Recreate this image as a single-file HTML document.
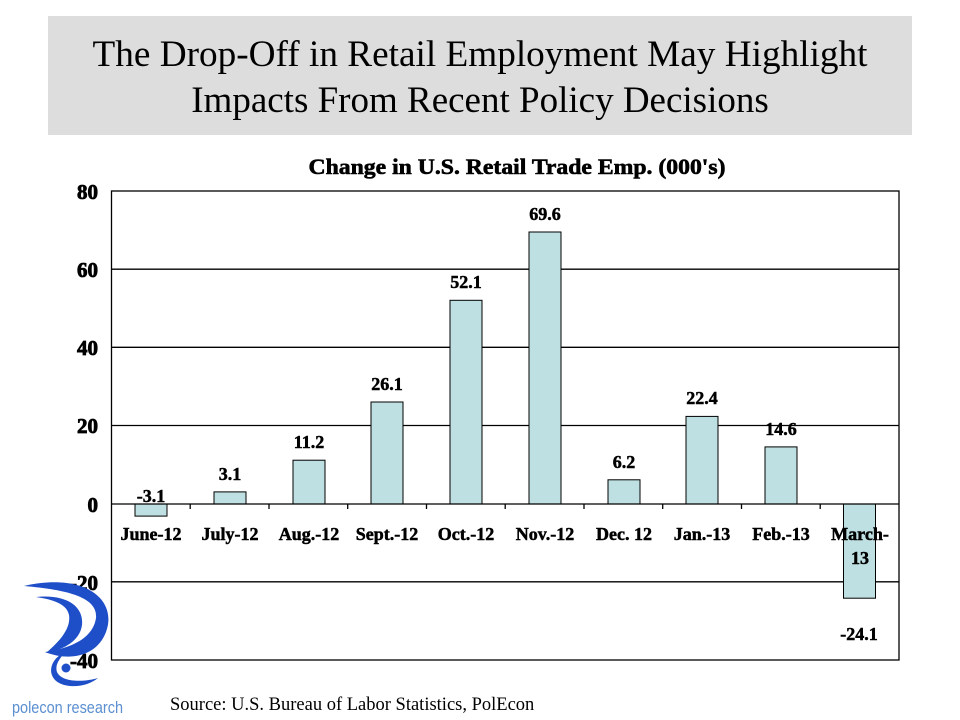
<!DOCTYPE html>
<html><head><style>
body{margin:0;background:#fff;}
svg{display:block}
</style></head><body>
<svg width="960" height="720" viewBox="0 0 960 720" xmlns="http://www.w3.org/2000/svg" font-family="Liberation Serif, serif">
<rect x="48" y="16" width="864" height="119" fill="#dddddd"/>
<text x="480" y="66" font-size="37" text-anchor="middle" textLength="775" lengthAdjust="spacingAndGlyphs">The Drop-Off in Retail Employment May Highlight</text>
<text x="480" y="112" font-size="37" text-anchor="middle">Impacts From Recent Policy Decisions</text>
<text x="517" y="174" font-size="22" font-weight="bold" text-anchor="middle" stroke="#000" stroke-width="0.6" textLength="417" lengthAdjust="spacingAndGlyphs">Change in U.S. Retail Trade Emp. (000's)</text>
<g stroke="#000" stroke-width="1.3" fill="none">
<rect x="111.5" y="191" width="787.5" height="469"/>
<line x1="111.5" y1="269.2" x2="899" y2="269.2"/>
<line x1="111.5" y1="347.3" x2="899" y2="347.3"/>
<line x1="111.5" y1="425.5" x2="899" y2="425.5"/>
<line x1="111.5" y1="581.8" x2="899" y2="581.8"/>
</g>
<g font-size="21" font-weight="bold" text-anchor="end" stroke="#000" stroke-width="0.8">
<text x="98" y="199">80</text><text x="98" y="277">60</text><text x="98" y="355">40</text>
<text x="98" y="433">20</text><text x="98" y="512">0</text><text x="98" y="590">-20</text><text x="98" y="668">-40</text>
</g>
<g fill="#bfe0e2" stroke="#000" stroke-width="1">
<rect x="135" y="504" width="32" height="12.1"/>
<rect x="214" y="491.9" width="32" height="12.1"/>
<rect x="293" y="460.2" width="32" height="43.8"/>
<rect x="371" y="402" width="32" height="102"/>
<rect x="450" y="300.3" width="32" height="203.7"/>
<rect x="529" y="232" width="32" height="272"/>
<rect x="608" y="479.8" width="32" height="24.2"/>
<rect x="686" y="416.4" width="32" height="87.6"/>
<rect x="765" y="446.9" width="32" height="57.1"/>
<rect x="843.5" y="504" width="32" height="94.2"/>
</g>
<g stroke="#000" stroke-width="1.3">
<line x1="111.5" y1="504" x2="899" y2="504"/>
<line x1="190.2" y1="504" x2="190.2" y2="509"/><line x1="269" y1="504" x2="269" y2="509"/>
<line x1="347.7" y1="504" x2="347.7" y2="509"/><line x1="426.5" y1="504" x2="426.5" y2="509"/>
<line x1="505.2" y1="504" x2="505.2" y2="509"/><line x1="584" y1="504" x2="584" y2="509"/>
<line x1="662.7" y1="504" x2="662.7" y2="509"/><line x1="741.5" y1="504" x2="741.5" y2="509"/>
<line x1="820.2" y1="504" x2="820.2" y2="509"/>
</g>
<g font-size="18" font-weight="bold" text-anchor="middle" stroke="#000" stroke-width="0.5">
<text x="151" y="502">-3.1</text><text x="230" y="480">3.1</text><text x="309" y="448">11.2</text>
<text x="387" y="390">26.1</text><text x="466" y="288">52.1</text><text x="545" y="220">69.6</text>
<text x="624" y="468">6.2</text><text x="702" y="404">22.4</text><text x="781" y="435">14.6</text>
<text x="859" y="640">-24.1</text>
<text x="151" y="540">June-12</text><text x="230" y="540">July-12</text><text x="309" y="540">Aug.-12</text>
<text x="387" y="540">Sept.-12</text><text x="466" y="540">Oct.-12</text><text x="545" y="540">Nov.-12</text>
<text x="624" y="540">Dec. 12</text><text x="702" y="540">Jan.-13</text><text x="781" y="540">Feb.-13</text>
<text x="860" y="540">March-</text><text x="860" y="564">13</text>
</g>
<text x="170" y="710" font-size="18.5">Source: U.S. Bureau of Labor Statistics, PolEcon</text>
<g fill="#1f4fc8">
<path d="M24 586 C85 572,118 600,106 632 C97 656,70 662,45 652 C72 648,93 638,96 618 C98 598,70 590,24 586Z"/>
<path d="M36 597 C66 594,84 606,82 625 C80 641,63 650,46 653 C61 640,71 628,69 615 C67 605,56 600,36 597Z"/>
<path d="M60 655 C46 665,48 684,70 686 C82 687,92 683,98 678 C85 682,62 683,57 672 C55 665,59 660,62 656Z"/>
<circle cx="66" cy="668" r="4.5"/>
</g>
<text x="12" y="713" font-size="17" fill="#5b8fd0" font-family="Liberation Sans, sans-serif" textLength="111" lengthAdjust="spacingAndGlyphs">polecon research</text>
</svg>
</body></html>
